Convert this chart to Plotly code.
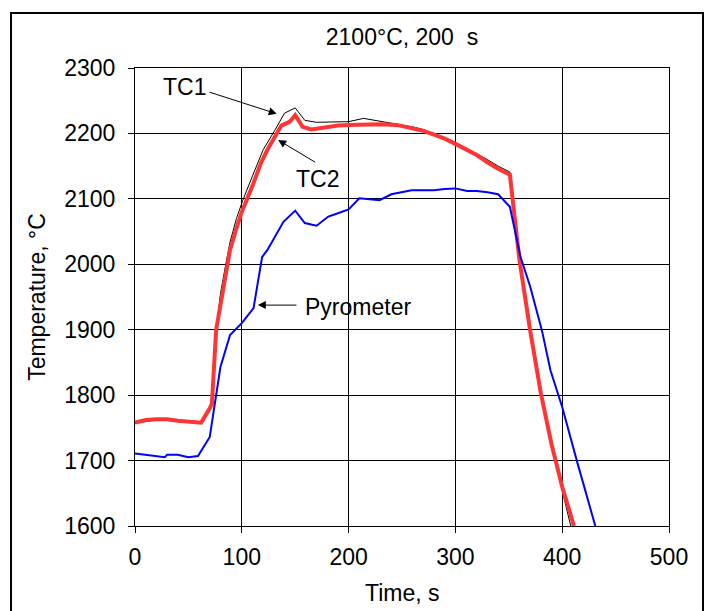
import plotly.graph_objects as go

# Thermocouple TC1 (thin black)
tc1_t = [0, 10, 20, 30, 40, 50, 58, 62, 70, 72, 76, 80, 85, 89, 95, 101, 110, 120, 131, 140,
         150, 159, 170, 183, 200, 214, 229, 245, 260, 270, 280, 290, 300, 310, 320, 330, 340,
         351, 360, 370, 380, 390, 400, 408]
tc1_T = [1757, 1760, 1762, 1762, 1760, 1759, 1757, 1757, 1780, 1788, 1900, 1955, 2000, 2034,
         2070, 2098, 2135, 2175, 2205, 2231, 2239, 2220, 2217, 2217, 2218, 2223, 2219, 2215,
         2210, 2206, 2200, 2193, 2186, 2178, 2169, 2160, 2150, 2141, 2008, 1900, 1800, 1722,
         1655, 1600]

# Thermocouple TC2 (thick red)
tc2_t = [0, 5, 10, 20, 30, 40, 50, 58, 62, 70, 72, 76, 80, 85, 89, 95, 100, 110, 118, 124,
         129, 137, 145, 150, 157, 165, 170, 180, 190, 200, 215, 230, 245, 260, 270, 280, 290,
         300, 310, 320, 330, 340, 351, 360, 370, 380, 390, 400, 411]
tc2_T = [1758, 1760, 1762, 1763, 1763, 1761, 1760, 1758, 1758, 1780, 1787, 1900, 1940, 1990,
         2022, 2055, 2080, 2120, 2155, 2175, 2190, 2212, 2218, 2228, 2210, 2206, 2207, 2210,
         2212, 2213, 2214, 2214, 2213, 2208, 2204, 2198, 2192, 2184, 2176, 2167, 2156, 2146,
         2137, 2006, 1899, 1803, 1725, 1660, 1600]

# Pyrometer (blue)
pyr_t = [0, 10, 20, 28, 30, 40, 50, 59, 70, 80, 89, 100, 111, 119, 124, 132, 139, 150, 159,
         170, 181, 190, 200, 210, 220, 229, 240, 250, 259, 270, 280, 290, 300, 311, 320, 330,
         340, 351, 361, 370, 381, 389, 400, 414, 431]
pyr_T = [1711, 1709, 1707, 1705, 1709, 1709, 1705, 1707, 1736, 1843, 1892, 1910, 1933, 2011,
         2022, 2045, 2065, 2082, 2063, 2059, 2073, 2078, 2084, 2101, 2100, 2098, 2107, 2110,
         2113, 2113, 2113, 2115, 2116, 2112, 2112, 2110, 2107, 2088, 2011, 1966, 1899, 1838,
         1782, 1698, 1600]

x_ticks = [0, 100, 200, 300, 400, 500]
y_ticks = [1600, 1700, 1800, 1900, 2000, 2100, 2200, 2300]

FONT = "Liberation Sans"
FS = 23
txt = dict(family=FONT, size=FS, color="black")

fig = go.Figure()
fig.add_trace(go.Scatter(x=tc1_t, y=tc1_T, mode="lines", name="TC1",
                         line=dict(color="black", width=1)))
fig.add_trace(go.Scatter(x=tc2_t, y=tc2_T, mode="lines", name="TC2",
                         line=dict(color="#ff3535", width=4)))
fig.add_trace(go.Scatter(x=pyr_t, y=pyr_T, mode="lines", name="Pyrometer",
                         line=dict(color="#0000ff", width=2)))

axis_common = dict(showline=True, linecolor="black", linewidth=1, mirror=True,
                   showgrid=True, gridcolor="black", gridwidth=1, zeroline=False,
                   ticks="outside", ticklen=6, tickcolor="black", tickfont=txt,
                   automargin=False)

fig.update_xaxes(range=[0, 500], tickvals=x_ticks, ticktext=[str(v) for v in x_ticks],
                 ticklabelstandoff=4, **axis_common)
fig.update_yaxes(range=[1600, 2300], tickvals=y_ticks, ticktext=[str(v) for v in y_ticks],
                 ticklabelstandoff=8,
                 title=dict(text="Temperature, °C", font=txt, standoff=12),
                 **axis_common)

# x-axis title
fig.add_annotation(xref="paper", yref="paper", x=0.5, y=-0.1463, yanchor="middle",
                   text="Time, s", showarrow=False, font=txt)

# arrows pointing at each curve, labels placed separately
arrow = dict(showarrow=True, arrowhead=2, arrowsize=1.6, arrowwidth=1, arrowcolor="black",
             axref="x", ayref="y", text="")
fig.add_annotation(x=132.7, y=2230, ax=68.4, ay=2263.8, **arrow)
fig.add_annotation(x=134, y=2190, ax=170, ay=2154.7, **arrow)
fig.add_annotation(x=115, y=1937.6, ax=152.6, ay=1937.6, **arrow)

fig.add_annotation(x=46.8, y=2271, text="TC1", showarrow=False, font=txt)
fig.add_annotation(x=171.3, y=2130, text="TC2", showarrow=False, font=txt)
fig.add_annotation(x=157, y=1935, text="Pyrometer", showarrow=False, xanchor="left", font=txt)

# outer chart frame
fig.add_shape(type="rect", xref="paper", yref="paper", x0=-0.2322, x1=1.0637,
              y0=-0.25, y1=1.1201, line=dict(color="black", width=2), layer="below")

fig.update_layout(
    width=704, height=611,
    margin=dict(l=135, r=35, t=68, b=85),
    paper_bgcolor="white", plot_bgcolor="white",
    showlegend=False,
    title=dict(text="2100°C, 200\u00a0 s", x=402 / 704, xanchor="center", y=1 - 37 / 611,
               yanchor="middle", font=txt),
)

fig.write_html("out.html")
